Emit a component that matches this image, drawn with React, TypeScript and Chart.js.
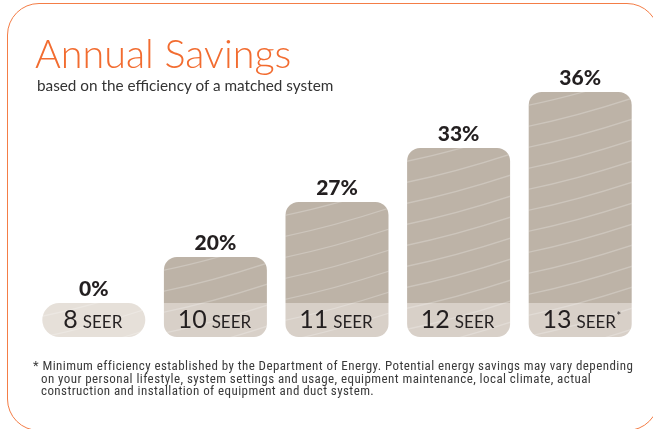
import React, { useEffect, useRef } from "react";
import { Chart, registerables } from "chart.js";

Chart.register(...registerables);

// ---- data ----
const categories = ["8", "10", "11", "12", "13"];
const unitLabel = "SEER";
const savingsLabels = ["0%", "20%", "27%", "33%", "36%"];
// visual height of each bar above its label band
const barHeights = [0, 46, 101, 155, 211];
const footnoteMarks = ["", "", "", "", "*"];

const titleText = "Annual Savings";
const subtitleText = "based on the efficiency of a matched system";
const footnoteLines = [
  "* Minimum efficiency established by the Department of Energy. Potential energy savings may vary depending",
  "on your personal lifestyle, system settings and usage, equipment maintenance, local climate, actual",
  "construction and installation of equipment and duct system.",
];

// ---- styles ----
const BAND = 34;
const TOP_COLOR = "#bdb3a7";
const BAND_COLOR = "#d8d0c8";
const PILL_COLOR = "#e6e0d9";
const TEXT_COLOR = "#231f20";
const ORANGE = "#f26c30";
const BORDER_ORANGE = "#f47d46";
const FONT = 'Lato, "Open Sans", "DejaVu Sans", sans-serif';
const RADIUS = 13;
const PILL_RADIUS = 17;

function barBox(chart: any, i: number) {
  const b0: any = chart.getDatasetMeta(0).data[i];
  const b1: any = chart.getDatasetMeta(1).data[i];
  const top = barHeights[i] > 0 ? b1.y : b0.y;
  const bottom = b0.base;
  const w = b0.width;
  return { x: b0.x, left: b0.x - w / 2, right: b0.x + w / 2, w, top, bottom, bandTop: b0.y };
}

const texturePlugin = {
  id: "texture",
  afterDatasetsDraw(chart: any) {
    const ctx = chart.ctx;
    for (let i = 0; i < categories.length; i++) {
      const b = barBox(chart, i);
      const r = i === 0 ? PILL_RADIUS : RADIUS;
      ctx.save();
      ctx.beginPath();
      ctx.roundRect(b.left, b.top, b.w, b.bottom - b.top, r);
      ctx.clip();
      ctx.strokeStyle = "rgba(255,255,255,0.24)";
      ctx.lineWidth = 1.3;
      for (let k = -2; k < 20; k++) {
        const y0 = b.top + k * 21;
        if (y0 - 30 > b.bottom) break;
        ctx.beginPath();
        ctx.moveTo(b.left - 4, y0 + 14);
        ctx.quadraticCurveTo(b.left + b.w * 0.45, y0 + 4, b.right + 4, y0 - 16);
        ctx.stroke();
      }
      ctx.restore();
    }
  },
};

const labelPlugin = {
  id: "barLabels",
  afterDatasetsDraw(chart: any) {
    const ctx = chart.ctx;
    ctx.save();
    ctx.fillStyle = TEXT_COLOR;
    ctx.textBaseline = "alphabetic";
    for (let i = 0; i < categories.length; i++) {
      const b = barBox(chart, i);
      // percent label
      ctx.font = `900 21px ${FONT}`;
      ctx.textAlign = "center";
      ctx.fillText(savingsLabels[i], b.x, b.top - 7);
      // category label
      const numFont = `25px ${FONT}`;
      const unitFont = `17px ${FONT}`;
      ctx.font = numFont;
      const wNum = ctx.measureText(categories[i]).width;
      ctx.font = unitFont;
      const wUnit = ctx.measureText(unitLabel).width;
      const gap = 5;
      const total = wNum + gap + wUnit;
      const startX = b.x - total / 2 - 1;
      const baseY = b.bottom - 9;
      ctx.textAlign = "left";
      ctx.font = numFont;
      ctx.fillText(categories[i], startX, baseY);
      ctx.font = unitFont;
      ctx.fillText(unitLabel, startX + wNum + gap, baseY);
      if (footnoteMarks[i]) {
        ctx.font = `11px ${FONT}`;
        ctx.fillText(footnoteMarks[i], startX + total + 0.5, baseY - 8);
      }
    }
    ctx.restore();
  },
};

export default function App() {
  const canvasRef = useRef<HTMLCanvasElement | null>(null);

  useEffect(() => {
    const canvas = canvasRef.current;
    if (!canvas) return;
    const chart = new Chart(canvas, {
      type: "bar",
      data: {
        labels: categories.map((c) => `${c} ${unitLabel}`),
        datasets: [
          {
            label: "band",
            data: categories.map(() => BAND),
            backgroundColor: (ctx: any) => (ctx.dataIndex === 0 ? PILL_COLOR : BAND_COLOR),
            borderRadius: (ctx: any) =>
              ctx.dataIndex === 0
                ? { topLeft: PILL_RADIUS, topRight: PILL_RADIUS, bottomLeft: PILL_RADIUS, bottomRight: PILL_RADIUS }
                : { topLeft: 0, topRight: 0, bottomLeft: RADIUS, bottomRight: RADIUS },
            borderSkipped: false,
            borderWidth: 0,
            stack: "s",
            categoryPercentage: 1,
            barPercentage: 0.847,
          } as any,
          {
            label: "savings",
            data: barHeights,
            backgroundColor: TOP_COLOR,
            borderRadius: { topLeft: RADIUS, topRight: RADIUS, bottomLeft: 0, bottomRight: 0 },
            borderSkipped: false,
            borderWidth: 0,
            stack: "s",
            categoryPercentage: 1,
            barPercentage: 0.847,
          } as any,
        ],
      },
      options: {
        responsive: false,
        animation: false,
        devicePixelRatio: 1,
        layout: { padding: { left: 33, right: 12, top: 0, bottom: 92 } },
        plugins: { legend: { display: false }, tooltip: { enabled: false } },
        scales: {
          x: { display: false, stacked: true },
          y: { display: false, stacked: true, min: 0, max: 337 },
        },
      },
      plugins: [texturePlugin, labelPlugin],
    });
    return () => chart.destroy();
  }, []);

  return (
    <div
      style={{
        position: "fixed",
        left: 0,
        top: 0,
        width: 653,
        height: 429,
        overflow: "hidden",
        background: "#ffffff",
      }}
    >
      <div
        style={{
          position: "absolute",
          left: 7,
          top: 3,
          width: 652,
          height: 428,
          boxSizing: "border-box",
          border: `1.5px solid ${BORDER_ORANGE}`,
          borderRadius: 32,
        }}
      />
      <canvas
        ref={canvasRef}
        width={653}
        height={429}
        style={{ position: "absolute", left: 0, top: 0, width: 653, height: 429 }}
      />
      <div
        style={{
          position: "absolute",
          left: 35,
          top: 33,
          fontFamily: FONT,
          fontWeight: 300,
          fontSize: 39.5,
          lineHeight: "40px",
          color: ORANGE,
          whiteSpace: "nowrap",
        }}
      >
        {titleText}
      </div>
      <div
        style={{
          position: "absolute",
          left: 37,
          top: 77,
          fontFamily: FONT,
          fontSize: 15.3,
          lineHeight: "17px",
          color: "#333333",
          whiteSpace: "nowrap",
        }}
      >
        {subtitleText}
      </div>
      <div
        style={{
          position: "absolute",
          left: 33,
          top: 360,
          fontFamily: '"Liberation Sans Narrow", "Roboto Condensed", Lato, sans-serif',
          fontSize: 13,
          letterSpacing: "0.42px",
          lineHeight: "12.5px",
          color: "#3a3a3a",
          whiteSpace: "nowrap",
        }}
      >
        {footnoteLines.map((l, i) => (
          <div key={i} style={{ paddingLeft: i === 0 ? 0 : 8 }}>
            {l}
          </div>
        ))}
      </div>
    </div>
  );
}
